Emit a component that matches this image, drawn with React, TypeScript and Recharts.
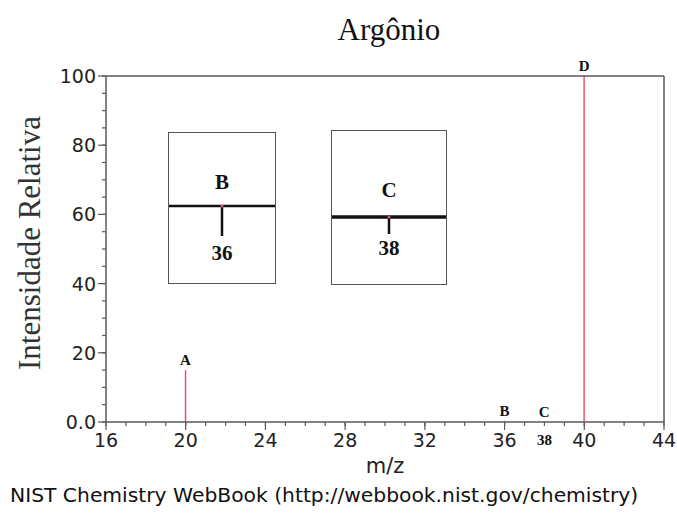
import React from 'react';
import { ComposedChart, Bar, XAxis, YAxis, LabelList, ReferenceLine } from 'recharts';

// mass spectrum of argon (NIST)
const mz = [20, 36, 38, 40];
const intensity = [15, 0.34, 0.06, 100];
const peakLabels = ['A', 'B', 'C', 'D'];

const xTicks = [16, 17, 18, 19, 20, 21, 22, 23, 24, 25, 26, 27, 28, 29, 30, 31, 32, 33, 34, 35, 36, 37, 38, 39, 40, 41, 42, 43, 44];
const xMajor = [16, 20, 24, 28, 32, 36, 40, 44];
const yTicks = [0, 5, 10, 15, 20, 25, 30, 35, 40, 45, 50, 55, 60, 65, 70, 75, 80, 85, 90, 95, 100];
const yMajor = [0, 20, 40, 60, 80, 100];

const data = mz.map((m, i) => ({ mz: m, value: intensity[i], label: peakLabels[i] }));

const AXIS = '#5a5a5a';
const PEAK = '#e8546e';
const SANS = 'DejaVu Sans, sans-serif';
const SERIF = 'Liberation Serif, Times New Roman, serif';

// tickSize is 4 (minor length); majors get an extension drawn here
const XTick = (props: any) => {
  const { x, y, payload } = props;
  const v = payload.value;
  const major = xMajor.includes(v);
  return (
    <g>
      {major && <path d={`M${x},${y - 4}L${x},${y + 4}`} stroke={AXIS} strokeWidth={1.2} />}
      {major && (
        <text x={x} y={y + 21} textAnchor="middle" fontFamily={SANS} fontSize={19} fill="#222">
          {v}
        </text>
      )}
      {v === 38 && (
        <text x={x} y={y + 19} textAnchor="middle" fontFamily={SERIF} fontWeight="bold" fontSize={15} fill="#111">
          38
        </text>
      )}
    </g>
  );
};

const YTick = (props: any) => {
  const { x, y, payload } = props;
  const v = payload.value;
  const major = yMajor.includes(v);
  return (
    <g>
      {major && <path d={`M${x + 4},${y}L${x - 4},${y}`} stroke={AXIS} strokeWidth={1.2} />}
      {major && (
        <text x={x - 6} y={y + 7} textAnchor="end" fontFamily={SANS} fontSize={19} fill="#222">
          {v === 0 ? '0.0' : v}
        </text>
      )}
    </g>
  );
};

const Inset = ({ left, top, width, height, lineY, lineW, stemLen, letter, num, letterY, numY }: any) => (
  <svg
    width={width}
    height={height}
    style={{ position: 'absolute', left, top, overflow: 'visible' }}
  >
    <rect x={0.5} y={0.5} width={width - 1} height={height - 1} fill="white" stroke="#555" strokeWidth={1} />
    <line x1={1} x2={width - 1} y1={lineY} y2={lineY} stroke="#111" strokeWidth={lineW} />
    <line x1={width / 2} x2={width / 2} y1={lineY} y2={lineY + stemLen} stroke="#111" strokeWidth={2.5} />
    <circle cx={width / 2} cy={lineY} r={1.5} fill={PEAK} />
    <text x={width / 2} y={letterY} textAnchor="middle" fontFamily={SERIF} fontWeight="bold" fontSize={21} fill="#111">
      {letter}
    </text>
    <text x={width / 2} y={numY} textAnchor="middle" fontFamily={SERIF} fontWeight="bold" fontSize={21} fill="#111">
      {num}
    </text>
  </svg>
);

export default function App() {
  return (
    <div style={{ position: 'relative', width: 677, height: 513, background: 'white', overflow: 'hidden' }}>
      <style>{'body{margin:0;overflow:hidden}'}</style>
      <ComposedChart width={677} height={513} data={data} margin={{ top: 76, right: 13, left: 0, bottom: 0 }}>
        <XAxis
          dataKey="mz"
          type="number"
          domain={[16, 44]}
          ticks={xTicks}
          interval={0}
          tickLine={{ stroke: AXIS, strokeWidth: 1.2 }}
          tickSize={4}
          tickMargin={0}
          tick={<XTick />}
          axisLine={{ stroke: AXIS, strokeWidth: 1.5 }}
          height={91}
        />
        <YAxis
          type="number"
          domain={[0, 100]}
          ticks={yTicks}
          interval={0}
          tickLine={{ stroke: AXIS, strokeWidth: 1.2 }}
          tickSize={4}
          tickMargin={0}
          tick={<YTick />}
          axisLine={{ stroke: AXIS, strokeWidth: 1.5 }}
          width={106}
        />
        <ReferenceLine y={100} stroke={AXIS} strokeWidth={1.5} />
        <ReferenceLine x={44} stroke={AXIS} strokeWidth={1.5} />
        <Bar dataKey="value" fill={PEAK} barSize={1.5} isAnimationActive={false}>
          <LabelList
            dataKey="label"
            position="top"
            offset={5}
            fontFamily={SERIF}
            fontWeight="bold"
            fontSize={15}
            fill="#111"
          />
        </Bar>
      </ComposedChart>
      <div
        style={{
          position: 'absolute', left: 0, top: 10, width: 778, textAlign: 'center',
          fontFamily: SERIF, fontSize: 31, lineHeight: '40px', color: '#111',
        }}
      >
        Argônio
      </div>
      <div
        style={{
          position: 'absolute', left: 30, top: 243, transform: 'translate(-50%, -50%) rotate(-90deg)',
          whiteSpace: 'nowrap', fontFamily: SERIF, fontSize: 31, color: '#333',
        }}
      >
        Intensidade Relativa
      </div>
      <div
        style={{
          position: 'absolute', left: 0, top: 454, width: 770, textAlign: 'center',
          fontFamily: SANS, fontSize: 21, color: '#222',
        }}
      >
        m/z
      </div>
      <div
        style={{
          position: 'absolute', left: 10, top: 483, whiteSpace: 'nowrap',
          fontFamily: SANS, fontSize: 20.3, color: '#111',
        }}
      >
        NIST Chemistry WebBook (http://webbook.nist.gov/chemistry)
      </div>
      <Inset left={168} top={132} width={108} height={152} lineY={74} lineW={2.5} stemLen={30}
        letter="B" num="36" letterY={57} numY={128} />
      <Inset left={331} top={130} width={116} height={155} lineY={87} lineW={3.5} stemLen={17}
        letter="C" num="38" letterY={67} numY={125} />
    </div>
  );
}
